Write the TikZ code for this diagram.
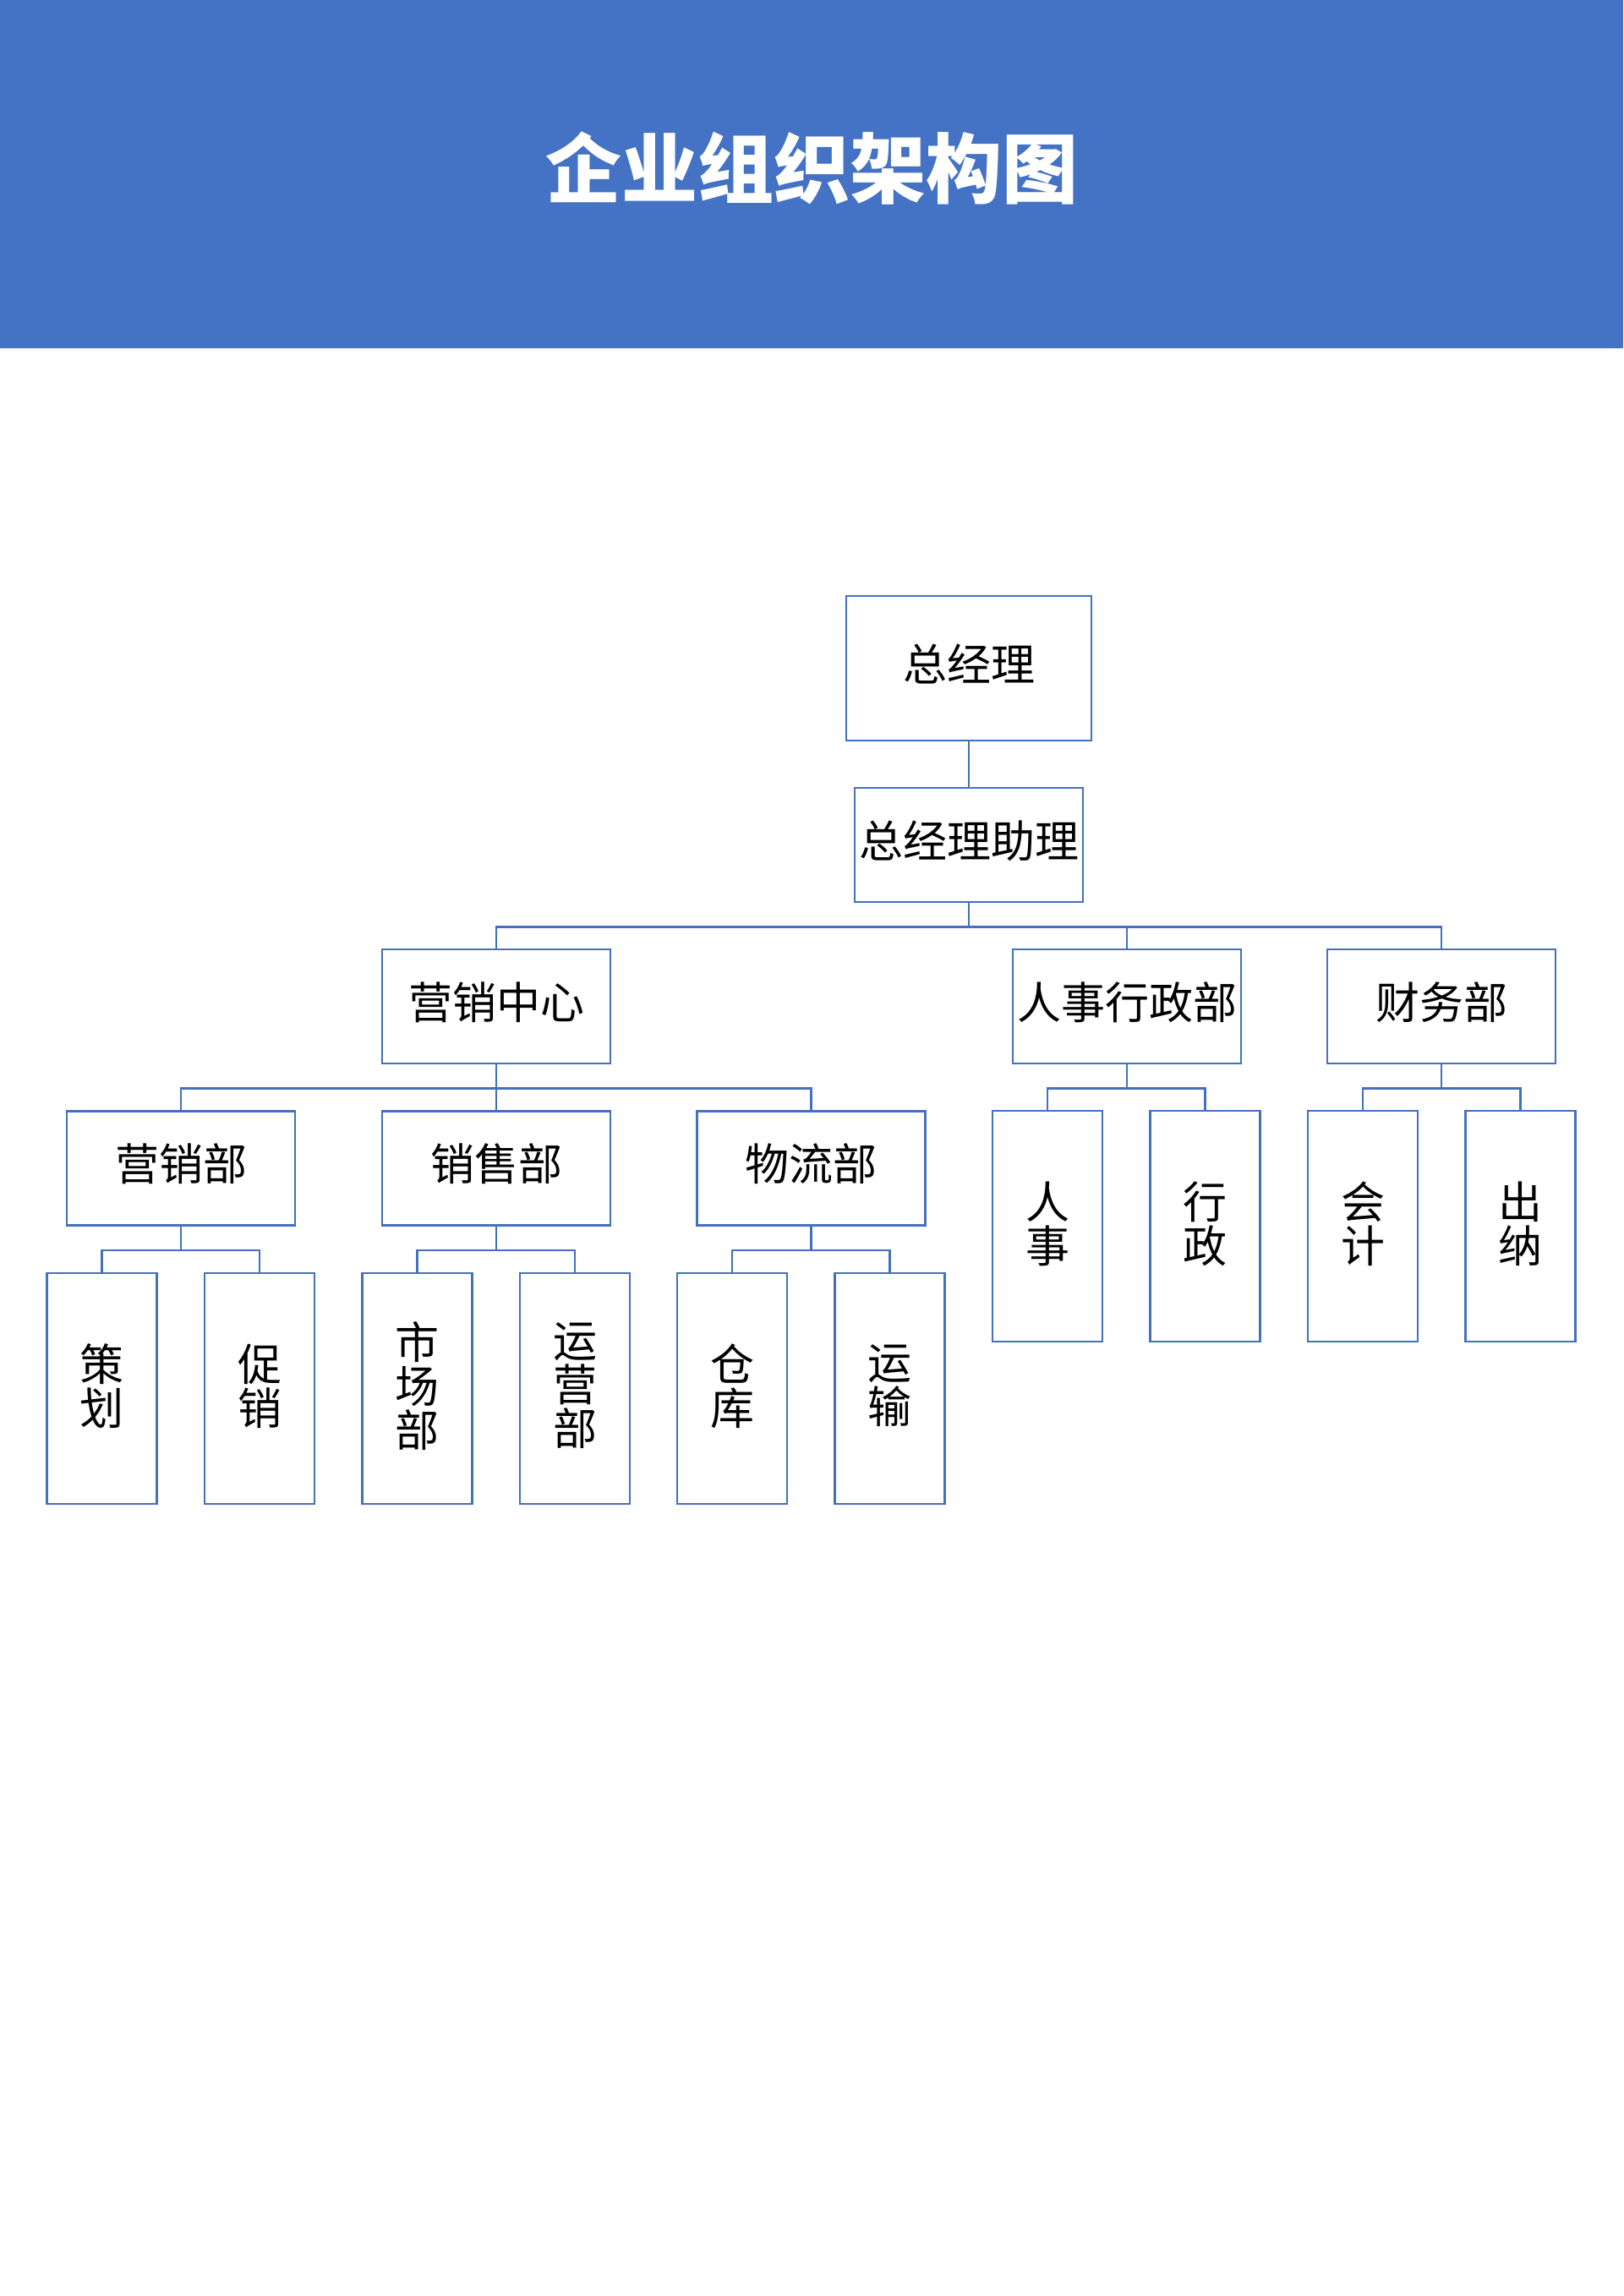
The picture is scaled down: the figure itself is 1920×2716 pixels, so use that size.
\documentclass[tikz,border=0pt]{standalone}
\usepackage{fontspec}
\newfontfamily\cjk{Noto Sans CJK SC}
\definecolor{hdrblue}{HTML}{4472C4}
\definecolor{lineblue}{HTML}{4470BE}
\newcommand\tx[1]{\raisebox{5pt}[\height][\depth]{#1}}
\newcommand\vt[1]{\raisebox{3pt}[\height][\depth]{\vbox{\baselineskip=52pt\lineskiplimit=-100pt\halign{\hfil##\hfil\cr#1\crcr}}}}
\begin{document}
\begin{tikzpicture}[x=1pt,y=-1pt,
  box/.style={draw=lineblue,line width=2.6pt,fill=white,rectangle,inner sep=0pt,
    font=\cjk\fontsize{52}{53}\selectfont,text=black},
  wbox/.style={box,minimum width=270pt,minimum height=135pt},
  vbox/.style={box,minimum width=130pt,minimum height=273pt},
  conn/.style={draw=lineblue,line width=2.6pt}]
\useasboundingbox (0,0) rectangle (1920,2716);
\fill[white] (0,0) rectangle (1920,2716);
\fill[hdrblue] (0,0) rectangle (1920,412);
\node[text=white,font=\cjk\bfseries\fontsize{90}{100}\selectfont,inner sep=0pt] (title) at (960,199) {企业组织架构图};
% level 0
\node[box,minimum width=290pt,minimum height=171pt] (gm) at (1146,790.5) {\tx{总经理}};
\node[wbox] (asst) at (1146,999.5) {\tx{总经理助理}};
% level 1
\node[wbox] (mkc) at (587,1190.5) {\tx{营销中心}};
\node[wbox] (hr) at (1333,1190.5) {\tx{人事行政部}};
\node[wbox] (fin) at (1705,1190.5) {\tx{财务部}};
% level 2
\node[wbox] (mkt) at (214,1382) {\tx{营销部}};
\node[wbox] (sales) at (587,1382) {\tx{销售部}};
\node[wbox] (log) at (959.5,1382) {\tx{物流部}};
\node[vbox] (rs) at (1239,1450.5) {\vt{人\cr 事}};
\node[vbox] (xz) at (1425.5,1450.5) {\vt{行\cr 政}};
\node[vbox] (kj) at (1612,1450.5) {\vt{会\cr 计}};
\node[vbox] (cn) at (1798.5,1450.5) {\vt{出\cr 纳}};
% level 3
\node[vbox] (ch) at (120.5,1642.5) {\vt{策\cr 划}};
\node[vbox] (cx) at (307,1642.5) {\vt{促\cr 销}};
\node[vbox] (sc) at (493.5,1642.5) {\vt{市\cr 场\cr 部}};
\node[vbox] (yy) at (680,1642.5) {\vt{运\cr 营\cr 部}};
\node[vbox] (ck) at (866,1642.5) {\vt{仓\cr 库}};
\node[vbox] (ys) at (1052.5,1642.5) {\vt{运\cr 输}};
% connectors
\draw[conn] (gm.south) -- (asst.north);
\foreach \c in {mkc,hr,fin} \draw[conn] (asst.south) -- ++(0,28) -| (\c.north);
\foreach \c in {mkt,sales,log} \draw[conn] (mkc.south) -- ++(0,28) -| (\c.north);
\foreach \c in {rs,xz} \draw[conn] (hr.south) -- ++(0,28) -| (\c.north);
\foreach \c in {kj,cn} \draw[conn] (fin.south) -- ++(0,28) -| (\c.north);
\foreach \c in {ch,cx} \draw[conn] (mkt.south) -- ++(0,28) -| (\c.north);
\foreach \c in {sc,yy} \draw[conn] (sales.south) -- ++(0,28) -| (\c.north);
\foreach \c in {ck,ys} \draw[conn] (log.south) -- ++(0,28) -| (\c.north);
\end{tikzpicture}
\end{document}
